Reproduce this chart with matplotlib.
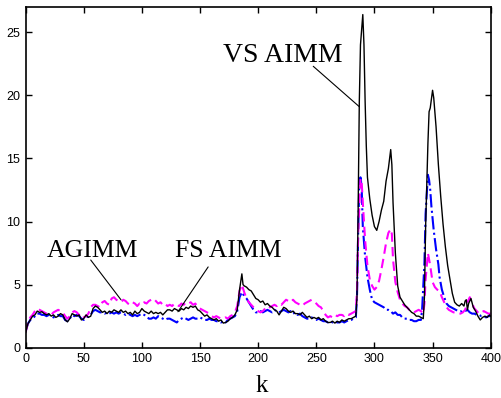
import matplotlib
matplotlib.use("Agg")
import matplotlib.pyplot as plt

# VS AIMM (solid black)
k_vs = [0, 2, 4, 6, 8, 10, 12, 14, 16, 18, 20, 22, 24, 26, 28, 30, 32, 34, 36, 38,
        40, 42, 44, 46, 48, 50, 52, 54, 56, 58, 60, 62, 64, 66, 68, 70, 72, 74, 76, 78,
        80, 82, 84, 86, 88, 90, 92, 94, 96, 98, 100, 102, 104, 106, 108, 110, 112, 114, 116, 118,
        120, 122, 124, 126, 128, 130, 132, 134, 136, 138, 140, 142, 144, 146, 148, 150, 152, 154, 156, 158,
        160, 162, 164, 166, 168, 170, 172, 174, 176, 178, 180, 182, 184, 186, 187, 188, 190, 192, 194, 196,
        198, 200, 202, 204, 206, 208, 210, 212, 214, 216, 218, 220, 222, 224, 226, 228, 230, 232, 234, 236,
        238, 240, 242, 244, 246, 248, 250, 252, 254, 256, 258, 260, 262, 264, 266, 268, 270, 272, 274, 276,
        278, 280, 282, 284, 285, 286, 287, 288, 290, 291, 292, 293, 294, 296, 298, 300, 302, 304, 306, 308,
        310, 312, 314, 315, 316, 317, 318, 319, 320, 322, 324, 326, 328, 330, 332, 334, 336, 338, 340, 342,
        343, 344, 345, 346, 347, 348, 350, 351, 353, 355, 357, 359, 361, 363, 365, 367, 369, 371, 373, 375,
        377, 378, 379, 380, 381, 383, 385, 387, 389, 391, 393, 395, 397, 399, 400]
y_vs = [1.2, 1.9, 2.2, 2.5, 2.6, 2.9, 2.8, 2.85, 2.7, 2.6, 2.7, 2.5, 2.6, 2.4, 2.5, 2.7, 2.6, 2.2, 2.05, 2.3,
        2.7, 2.6, 2.5, 2.6, 2.2, 2.3, 2.6, 2.4, 2.5, 3.1, 3.3, 3.2, 3.0, 2.8, 2.9, 2.7, 2.9, 2.8, 3.0, 2.9,
        2.8, 3.0, 2.8, 2.9, 2.7, 2.8, 2.6, 2.9, 2.7, 2.8, 3.1, 2.9, 2.8, 2.7, 2.9, 2.7, 2.8, 2.7, 2.8, 2.6,
        2.8, 3.0, 3.0, 2.9, 3.1, 3.0, 2.9, 3.1, 3.0, 3.2, 3.1, 3.3, 3.2, 3.3, 3.0, 2.9, 2.7, 2.5, 2.6, 2.4,
        2.3, 2.2, 2.3, 2.1, 2.2, 1.95, 2.0, 2.1, 2.3, 2.4, 2.6, 3.0, 4.6, 5.85, 5.0, 4.9, 4.8, 4.6, 4.5, 4.2,
        3.9, 3.8, 3.6, 3.7, 3.4, 3.5, 3.3, 3.2, 3.0, 2.9, 2.6, 2.9, 3.2, 3.1, 2.9, 2.8, 2.9, 2.7, 2.7, 2.6,
        2.8, 2.6, 2.4, 2.5, 2.3, 2.4, 2.3, 2.4, 2.2, 2.3, 2.1, 2.0, 2.0, 2.1, 1.95, 2.1, 2.0, 2.2, 2.1, 2.2,
        2.3, 2.3, 2.4, 2.5, 4.0, 11.0, 19.5, 24.0, 26.4, 24.0, 19.5, 16.0, 13.5, 11.8, 10.5, 9.6, 9.3, 10.0, 10.9, 11.6,
        13.2, 14.2, 15.7, 14.5, 11.5, 9.5, 7.5, 6.2, 4.9, 4.0, 3.7, 3.4, 3.2, 3.0, 2.8, 2.7, 2.5, 2.5, 2.4, 2.3,
        4.0, 9.5, 13.0, 16.2, 18.7, 19.0, 20.4, 19.8, 17.5, 14.5, 12.0, 9.8, 8.0, 6.5, 5.4, 4.3, 3.6, 3.4, 3.3, 3.5,
        3.3, 3.7, 3.8, 3.0, 3.5, 3.9, 3.2, 2.9, 2.5, 2.2, 2.4, 2.5, 2.4, 2.6, 2.5]

# AGIMM (magenta dashed)
k_ag = [0, 2, 4, 6, 8, 10, 12, 14, 16, 18, 20, 22, 24, 26, 28, 30, 32, 34, 36, 38,
        40, 42, 44, 46, 48, 50, 52, 54, 56, 58, 60, 62, 64, 66, 68, 70, 72, 74, 76, 78,
        80, 82, 84, 86, 88, 90, 92, 94, 96, 98, 100, 102, 104, 106, 108, 110, 112, 114, 116, 118,
        120, 122, 124, 126, 128, 130, 132, 134, 136, 138, 140, 142, 144, 146, 148, 150, 152, 154, 156, 158,
        160, 162, 164, 166, 168, 170, 172, 174, 176, 178, 180, 182, 184, 186, 188, 190, 192, 194, 196, 198,
        200, 202, 204, 206, 208, 210, 212, 214, 216, 218, 220, 222, 224, 226, 228, 230, 232, 234, 236, 238,
        240, 242, 244, 246, 248, 250, 252, 254, 256, 258, 260, 262, 264, 266, 268, 270, 272, 274, 276, 278,
        280, 282, 284, 285, 286, 288, 289, 290, 292, 294, 296, 298, 300, 302, 304, 306, 308, 310, 312, 314,
        315, 316, 318, 320, 322, 324, 326, 328, 330, 332, 334, 336, 338, 340, 342, 343, 344, 346, 347, 348,
        350, 352, 354, 356, 358, 360, 362, 364, 366, 368, 370, 372, 374, 376, 378, 380, 382, 384, 386, 388,
        390, 392, 394, 396, 398, 400]
y_ag = [1.2, 2.0, 2.4, 2.6, 2.9, 3.1, 3.0, 2.9, 2.8, 2.7, 2.7, 2.6, 2.8, 2.9, 3.0, 2.9, 2.8, 2.5, 2.3, 2.5,
        2.8, 2.9, 2.8, 2.6, 2.3, 2.4, 2.5, 2.7, 3.2, 3.4, 3.4, 3.3, 3.2, 3.6, 3.7, 3.5, 3.4, 3.9, 4.0, 3.8,
        3.7, 3.6, 3.8, 3.7, 3.5, 3.4, 3.6, 3.5, 3.3, 3.5, 3.4, 3.6, 3.5, 3.7, 3.8, 3.9, 3.7, 3.5, 3.6, 3.4,
        3.5, 3.3, 3.4, 3.3, 3.5, 3.4, 3.3, 3.5, 3.4, 3.6, 3.5, 3.6, 3.4, 3.5, 3.2, 3.1, 3.0, 2.9, 2.8, 2.7,
        2.5, 2.4, 2.5, 2.4, 2.3, 2.3, 2.4, 2.3, 2.5, 2.6, 2.8, 3.3, 4.5, 5.0, 4.4, 3.9, 3.6, 3.4, 3.2, 3.0,
        2.9, 2.8, 2.9, 3.1, 3.3, 3.2, 3.3, 3.4, 3.3, 3.5, 3.4, 3.6, 3.8, 3.7, 3.6, 3.8, 3.6, 3.5, 3.4, 3.3,
        3.5, 3.6, 3.7, 3.8, 3.7, 3.5, 3.3, 3.2, 2.9, 2.6, 2.4, 2.5, 2.4, 2.6, 2.5, 2.6, 2.6, 2.5, 2.7, 2.6,
        2.7, 2.8, 2.9, 4.5, 9.0, 13.4, 13.2, 11.5, 8.5, 6.5, 5.4, 4.9, 4.6, 4.8, 5.3, 6.2, 7.2, 8.3, 9.1, 9.4,
        9.0, 7.0, 5.2, 4.4, 3.8, 3.5, 3.3, 3.2, 3.0, 2.9, 2.8, 2.9, 3.0, 2.9, 2.7, 3.5, 5.4, 7.5, 7.0, 6.5,
        5.2, 4.8, 4.6, 4.5, 4.0, 3.6, 3.2, 3.0, 2.9, 2.8, 2.8, 2.7, 2.7, 2.8, 3.0, 3.6, 4.0, 3.5, 3.1, 2.9,
        2.7, 2.8, 2.9, 2.8, 2.7, 2.7]

# FS AIMM (blue dash-dot)
k_fs = [0, 2, 4, 6, 8, 10, 12, 14, 16, 18, 20, 22, 24, 26, 28, 30, 32, 34, 36, 38,
        40, 42, 44, 46, 48, 50, 52, 54, 56, 58, 60, 62, 64, 66, 68, 70, 72, 74, 76, 78,
        80, 82, 84, 86, 88, 90, 92, 94, 96, 98, 100, 102, 104, 106, 108, 110, 112, 114, 116, 118,
        120, 122, 124, 126, 128, 130, 132, 134, 136, 138, 140, 142, 144, 146, 148, 150, 152, 154, 156, 158,
        160, 162, 164, 166, 168, 170, 172, 174, 176, 178, 180, 182, 184, 186, 188, 190, 192, 194, 196, 198,
        200, 202, 204, 206, 208, 210, 212, 214, 216, 218, 220, 222, 224, 226, 228, 230, 232, 234, 236, 238,
        240, 242, 244, 246, 248, 250, 252, 254, 256, 258, 260, 262, 264, 266, 268, 270, 272, 274, 276, 278,
        280, 282, 284, 285, 286, 287, 288, 289, 290, 292, 294, 296, 298, 300, 302, 304, 306, 308, 310, 312,
        314, 316, 318, 320, 322, 324, 326, 328, 330, 332, 334, 336, 338, 340, 341, 343, 344, 346, 347, 348,
        349, 351, 353, 355, 356, 358, 360, 362, 364, 366, 368, 370, 372, 374, 376, 378, 380, 382, 384, 386,
        388, 390, 392, 394, 396, 398, 400]
y_fs = [1.3, 1.9, 2.2, 2.3, 2.5, 2.7, 2.7, 2.6, 2.6, 2.5, 2.6, 2.5, 2.4, 2.5, 2.6, 2.5, 2.5, 2.2, 2.1, 2.3,
        2.6, 2.5, 2.6, 2.5, 2.3, 2.2, 2.4, 2.5, 2.6, 2.9, 3.0, 2.9, 2.8, 2.8, 2.7, 2.8, 2.7, 2.8, 2.7, 2.8,
        2.7, 2.8, 2.7, 2.6, 2.7, 2.6, 2.5, 2.6, 2.5, 2.6, 2.7, 2.6, 2.5, 2.3, 2.3, 2.4, 2.3, 2.5, 2.4, 2.3,
        2.2, 2.3, 2.3, 2.2, 2.1, 2.0, 2.2, 2.3, 2.4, 2.3, 2.2, 2.3, 2.4, 2.3, 2.3, 2.4, 2.3, 2.2, 2.2, 2.3,
        2.2, 2.2, 2.1, 2.1, 2.0, 2.1, 2.0, 2.2, 2.3, 2.4, 2.5, 2.9, 4.0, 4.4, 4.1, 3.9, 3.6, 3.3, 3.0, 2.8,
        2.8, 2.9, 2.8, 2.9, 3.0, 2.9, 2.8, 3.0, 2.9, 2.8, 2.9, 3.0, 2.9, 2.8, 2.9, 2.7, 2.8, 2.6, 2.7, 2.5,
        2.4, 2.3, 2.3, 2.4, 2.3, 2.2, 2.3, 2.2, 2.1, 2.1, 2.0, 2.1, 2.0, 2.1, 2.0, 2.0, 2.1, 2.0, 2.1, 2.2,
        2.2, 2.3, 2.4, 4.0, 9.0, 13.0, 13.5, 12.8, 9.6, 7.2, 5.6, 4.6, 3.8, 3.6, 3.5, 3.4, 3.3, 3.2, 3.0, 3.0,
        2.9, 2.7, 2.8, 2.6, 2.6, 2.4, 2.3, 2.3, 2.2, 2.2, 2.1, 2.1, 2.2, 2.2, 3.0, 6.7, 10.6, 13.7, 13.3, 12.5,
        11.2, 9.3, 7.8, 6.6, 5.6, 4.6, 4.0, 3.5, 3.3, 3.2, 3.1, 3.0, 2.9, 2.9, 2.8, 2.9, 3.0, 2.8, 2.7, 2.7,
        2.6, 2.6, 2.5, 2.5, 2.4, 2.5, 2.5]

x_ticks = [0, 50, 100, 150, 200, 250, 300, 350, 400]
y_ticks = [0, 5, 10, 15, 20, 25]

fig = plt.figure(figsize=(5.02, 3.98), dpi=100)
ax = fig.add_axes([0.051, 0.1264, 0.9265, 0.856])

ax.plot(k_fs, y_fs, color=(0, 0, 1), linestyle='-.', linewidth=1.5)
ax.plot(k_ag, y_ag, color=(1, 0, 1), linestyle=(0, (4.5, 2.5)), linewidth=1.5)
ax.plot(k_vs, y_vs, color='black', linestyle='-', linewidth=1.0)

ax.set_xlim(0, 400)
ax.set_ylim(0, 27)
ax.set_xticks(x_ticks)
ax.set_yticks(y_ticks)
ax.tick_params(direction='in', top=True, right=True, length=4, width=1,
               labelsize=9, pad=4)
for lab in ax.get_xticklabels() + ax.get_yticklabels():
    lab.set_family('Liberation Sans')
for sp in ax.spines.values():
    sp.set_linewidth(1.2)

serif = 'Liberation Serif'
ax.text(18, 7.2, 'AGIMM', family=serif, fontsize=18.5, va='baseline', ha='left')
ax.text(128.4, 7.2, 'FS AIMM', family=serif, fontsize=18.5, va='baseline', ha='left')
ax.text(169.7, 22.67, 'VS AIMM', family=serif, fontsize=20, va='baseline', ha='left')

line = dict(arrowstyle='-', color='black', lw=0.8, shrinkA=0, shrinkB=0)
ax.annotate('', xy=(82, 3.8), xytext=(56, 6.95), arrowprops=line)
ax.annotate('', xy=(131, 2.85), xytext=(157, 6.4), arrowprops=line)
ax.annotate('', xy=(287, 19.1), xytext=(247.4, 22.3), arrowprops=line)

fig.text(0.522, 0.003, 'k', family=serif, fontsize=18, ha='center', va='bottom')

fig.savefig('out.png', dpi=100)
